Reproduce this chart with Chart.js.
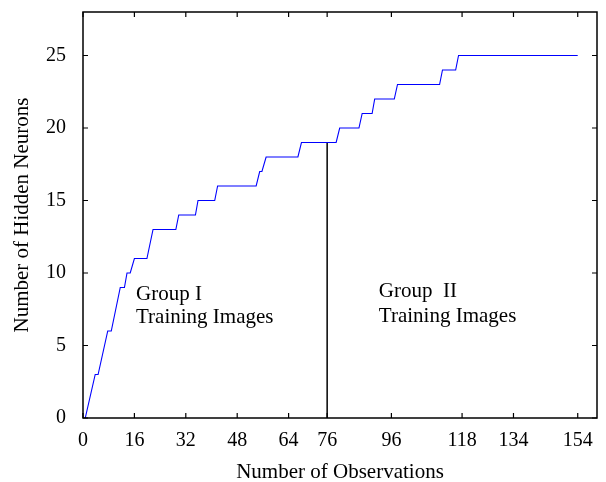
<!DOCTYPE html>
<html>
<head>
<meta charset="utf-8">
<script src="https://cdn.jsdelivr.net/npm/chart.js@4"></script>
<style>
  html, body { margin: 0; padding: 0; background: #fff; }
  #wrap { width: 606px; height: 482px; }
</style>
</head>
<body>
<div id="wrap"><canvas id="chart" width="606" height="482"></canvas></div>
<script>
// Hidden neuron growth (step curve with sloped risers)
const obsX = [0.7, 3.8, 4.7, 7.7, 8.8, 11.6, 12.9, 13.7, 14.7, 16.0, 19.9, 21.8, 28.9, 29.8, 35.0, 35.8,
    41.0, 41.9, 53.9, 55.0, 55.7, 57.0, 66.9, 68.0, 78.8, 79.9, 85.9, 86.9, 90.0, 90.8, 96.9, 97.9,
    111.0, 111.9, 116.0, 116.9, 154];
const neurons = [0, 3, 3, 6, 6, 9, 9, 10, 10, 11, 11, 13, 13, 14, 14, 15,
    15, 16, 16, 17, 17, 18, 18, 19, 19, 20, 20, 21, 21, 22, 22, 23,
    23, 24, 24, 25, 25];

// Boundary between the two training groups
const splitX = [76, 76];
const splitY = [0, 19];

const xTicks = [0, 16, 32, 48, 64, 76, 96, 118, 134, 154];
const yTicks = [0, 5, 10, 15, 20, 25];

// Text notes: [x, y(baseline), text]
const notes = [
    [16.5, 8.14, 'Group I'],
    [16.5, 6.53, 'Training Images'],
    [92.1, 8.32, 'Group  II'],
    [92.1, 6.64, 'Training Images']
];

const FONT = "'Liberation Serif', 'Times New Roman', serif";

// Frame, inward ticks on all sides and the notes
const framePlugin = {
    id: 'framePlugin',
    afterDraw(chart) {
        const ctx = chart.ctx;
        const area = chart.chartArea;
        const xs = chart.scales.x;
        const ys = chart.scales.y;
        const tick = 5;
        ctx.save();
        ctx.strokeStyle = '#000';
        ctx.lineWidth = 1.5;
        ctx.strokeRect(area.left, area.top, area.right - area.left, area.bottom - area.top);
        ctx.lineWidth = 1.2;
        ctx.beginPath();
        xTicks.forEach(v => {
            const px = xs.getPixelForValue(v);
            ctx.moveTo(px, area.bottom);
            ctx.lineTo(px, area.bottom - tick);
            ctx.moveTo(px, area.top);
            ctx.lineTo(px, area.top + tick);
        });
        yTicks.forEach(v => {
            const py = ys.getPixelForValue(v);
            ctx.moveTo(area.left, py);
            ctx.lineTo(area.left + tick, py);
            ctx.moveTo(area.right, py);
            ctx.lineTo(area.right - tick, py);
        });
        ctx.stroke();

        ctx.fillStyle = '#000';
        ctx.font = '21px ' + FONT;
        ctx.textAlign = 'left';
        ctx.textBaseline = 'alphabetic';
        notes.forEach(n => {
            ctx.fillText(n[2], xs.getPixelForValue(n[0]), ys.getPixelForValue(n[1]));
        });
        ctx.restore();
    }
};

const ctx = document.getElementById('chart').getContext('2d');
new Chart(ctx, {
    type: 'line',
    data: {
        datasets: [
            {
                data: obsX.map((x, i) => ({ x: x, y: neurons[i] })),
                borderColor: '#0000ff',
                borderWidth: 1.1,
                pointRadius: 0,
                tension: 0,
                fill: false
            },
            {
                data: splitX.map((x, i) => ({ x: x, y: splitY[i] })),
                borderColor: '#000',
                borderWidth: 1.5,
                pointRadius: 0,
                fill: false
            }
        ]
    },
    options: {
        responsive: false,
        animation: false,
        events: [],
        layout: {
            padding: { top: 12, right: 9, left: 0, bottom: 0 }
        },
        plugins: {
            legend: { display: false },
            tooltip: { enabled: false }
        },
        scales: {
            x: {
                type: 'linear',
                min: 0,
                max: 160,
                afterBuildTicks: axis => { axis.ticks = xTicks.map(v => ({ value: v })); },
                afterFit: axis => {
                    axis.height = 64;
                    axis.paddingLeft = 0;
                    axis.paddingRight = 0;
                },
                grid: { display: false, drawTicks: false },
                border: { display: false },
                ticks: {
                    autoSkip: false,
                    maxRotation: 0,
                    padding: 11,
                    color: '#000',
                    font: { family: FONT, size: 20 }
                },
                title: {
                    display: true,
                    text: 'Number of Observations',
                    color: '#000',
                    font: { family: FONT, size: 21, lineHeight: 0.87 },
                    padding: 0
                }
            },
            y: {
                min: 0,
                max: 28,
                afterBuildTicks: axis => { axis.ticks = yTicks.map(v => ({ value: v })); },
                afterFit: axis => {
                    axis.width = 83;
                    axis.paddingTop = 0;
                    axis.paddingBottom = 0;
                },
                grid: { display: false, drawTicks: false },
                border: { display: false },
                ticks: {
                    autoSkip: false,
                    padding: 17,
                    color: '#000',
                    font: { family: FONT, size: 20 }
                },
                title: {
                    display: true,
                    text: 'Number of Hidden Neurons',
                    color: '#000',
                    font: { family: FONT, size: 21 },
                    padding: { top: 10, bottom: 0 }
                }
            }
        }
    },
    plugins: [framePlugin]
});
</script>
</body>
</html>
